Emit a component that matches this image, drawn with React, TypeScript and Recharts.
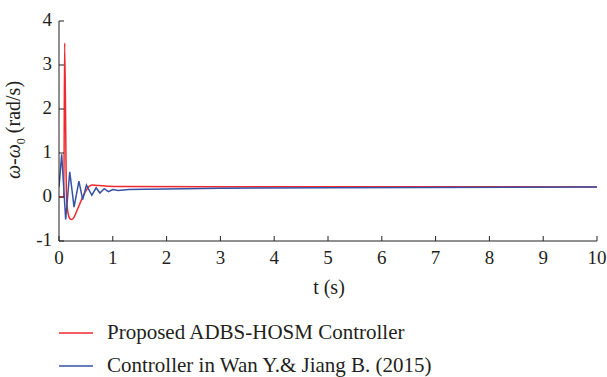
import React from "react";
import { LineChart, Line, XAxis, YAxis } from "recharts";

// Time axis (s) and ω-ω0 response (rad/s)
const xTicks = [0, 1, 2, 3, 4, 5, 6, 7, 8, 9, 10];
const yTicks = [-1, 0, 1, 2, 3, 4];

const proposedT = [0, 0.09, 0.105, 0.14, 0.17, 0.2, 0.24, 0.28, 0.35, 0.42, 0.5, 0.56, 0.63, 0.75, 0.9, 1.2, 3, 10];
const proposedW = [0, 0, 3.5, 0.0, -0.38, -0.49, -0.51, -0.46, -0.26, -0.06, 0.14, 0.24, 0.27, 0.26, 0.245, 0.24, 0.235, 0.23];

const wanT = [0, 0.05, 0.124, 0.2, 0.28, 0.37, 0.44, 0.51, 0.61, 0.69, 0.76, 0.84, 0.92, 1.0, 1.1, 1.3, 1.6, 2, 3, 5, 10];
const wanW = [0.23, 0.97, -0.51, 0.57, -0.23, 0.36, -0.06, 0.27, 0.04, 0.21, 0.09, 0.19, 0.12, 0.17, 0.15, 0.17, 0.175, 0.18, 0.2, 0.21, 0.225];

const seriesNames = ["Proposed ADBS-HOSM Controller", "Controller in Wan Y.& Jiang B. (2015)"];
const seriesColors = ["#ee2a30", "#3652a5"];

const proposedData = proposedT.map((t, i) => ({ t, w: proposedW[i] }));
const wanData = wanT.map((t, i) => ({ t, w: wanW[i] }));

const FONT = "Liberation Serif";
const TEXT = "#231f20";

const XTick = (props: any) => {
  const { x, y, payload } = props;
  return (
    <g>
      <line x1={x} y1={y} x2={x} y2={y - 5} stroke={TEXT} strokeWidth={1} />
      <text x={x} y={y + 23} textAnchor="middle" fontFamily={FONT} fontSize={19} fill={TEXT}>
        {payload.value}
      </text>
    </g>
  );
};

const YTick = (props: any) => {
  const { x, y, payload } = props;
  return (
    <g>
      <line x1={x} y1={y} x2={x + 5} y2={y} stroke={TEXT} strokeWidth={1} />
      <text x={x - 7} y={y + 5} textAnchor="end" fontFamily={FONT} fontSize={19} fill={TEXT}>
        {payload.value}
      </text>
    </g>
  );
};

const XLabel = (props: any) => {
  const { viewBox } = props;
  const cx = viewBox.x + viewBox.width / 2 + 1;
  return (
    <text x={cx} y={294} textAnchor="middle" fontFamily={FONT} fontSize={20} fill={TEXT}>
      t (s)
    </text>
  );
};

const YLabel = () => (
  <text
    transform="translate(20,130) rotate(-90)"
    textAnchor="middle"
    fontFamily={FONT}
    fontSize={20}
    fill={TEXT}
  >
    <tspan fontStyle="italic">ω</tspan>
    <tspan>-</tspan>
    <tspan fontStyle="italic">ω</tspan>
    <tspan fontSize={12} dy={5}>0</tspan>
    <tspan dy={-5}> (rad/s)</tspan>
  </text>
);

export default function App() {
  return (
    <div style={{ position: "absolute", left: 0, top: 0, width: 607, height: 377, background: "#fff" }}>
      <LineChart width={607} height={377} margin={{ top: 21, right: 10, bottom: 106, left: 0 }}>
        <XAxis
          type="number"
          dataKey="t"
          domain={[0, 10]}
          ticks={xTicks}
          interval={0}
          allowDataOverflow
          height={30}
          tickSize={0}
          tickMargin={0}
          tickLine={false}
          stroke={TEXT}
          tick={<XTick />}
          label={<XLabel />}
        />
        <YAxis
          type="number"
          domain={[-1, 4]}
          ticks={yTicks}
          interval={0}
          allowDataOverflow
          width={59}
          tickSize={0}
          tickMargin={0}
          tickLine={false}
          stroke={TEXT}
          tick={<YTick />}
          label={<YLabel />}
        />
        <Line
          data={proposedData}
          dataKey="w"
          type="monotone"
          stroke={seriesColors[0]}
          strokeWidth={1.5}
          dot={false}
          isAnimationActive={false}
        />
        <Line
          data={wanData}
          dataKey="w"
          type="linear"
          stroke={seriesColors[1]}
          strokeWidth={1.5}
          dot={false}
          isAnimationActive={false}
        />
      </LineChart>
      <svg width={607} height={377} style={{ position: "absolute", left: 0, top: 0, pointerEvents: "none" }}>
        {seriesNames.map((name, i) => {
          const ly = 333 + i * 33;
          return (
            <g key={name}>
              <line x1={59} x2={93} y1={ly} y2={ly} stroke={seriesColors[i]} strokeWidth={1.5} />
              <text x={107} y={ly + 6} fontFamily={FONT} fontSize={21} fill={TEXT}>
                {name}
              </text>
            </g>
          );
        })}
      </svg>
    </div>
  );
}
